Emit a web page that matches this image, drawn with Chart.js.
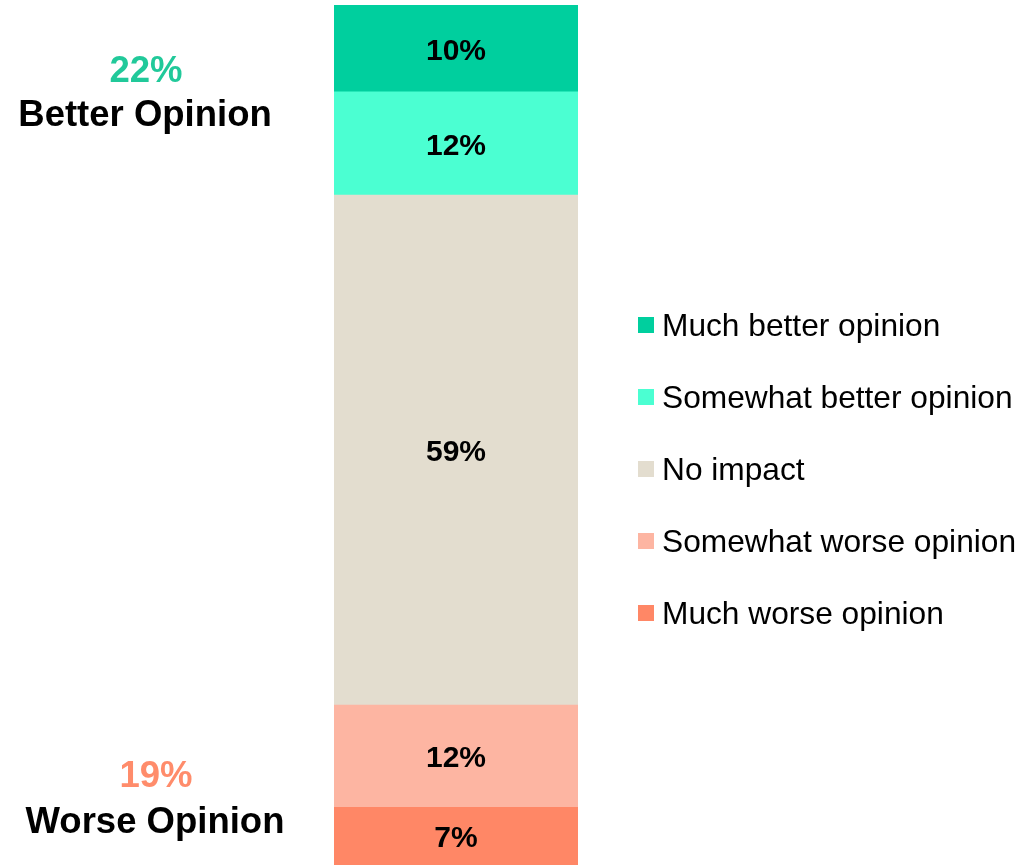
<!DOCTYPE html>
<html>
<head>
<meta charset="utf-8">
<script src="https://cdn.jsdelivr.net/npm/chart.js@4/dist/chart.umd.min.js"></script>
<style>
  html, body { margin: 0; padding: 0; background: #fff; }
  #wrap { position: relative; width: 1026px; height: 865px; }
</style>
</head>
<body>
<div id="wrap"><canvas id="chart"></canvas></div>
<script>
// data, bottom of the stack first (labels shown rounded)
const categories = ['Impact'];
const seriesNames = ['Much worse opinion', 'Somewhat worse opinion', 'No impact', 'Somewhat better opinion', 'Much better opinion'];
const seriesValues = [6.7, 11.9, 59.3, 12.0, 10.1];
const seriesColors = ['#FF8766', '#FDB5A2', '#E3DDCF', '#4BFFD2', '#00CF9E'];

const FONT = '"Liberation Sans", Arial, sans-serif';

const datasets = seriesNames.map((name, i) => ({
  label: name,
  data: [seriesValues[i]],
  backgroundColor: seriesColors[i],
  borderWidth: 0,
  barPercentage: 1,
  categoryPercentage: 1
}));

// percent labels inside each segment
const segmentLabels = {
  id: 'segmentLabels',
  afterDatasetsDraw(chart) {
    const ctx = chart.ctx;
    ctx.save();
    ctx.font = 'bold 30px ' + FONT;
    ctx.fillStyle = '#000';
    ctx.textAlign = 'center';
    ctx.textBaseline = 'middle';
    chart.data.datasets.forEach((ds, i) => {
      const bar = chart.getDatasetMeta(i).data[0];
      ctx.fillText(Math.round(ds.data[0]) + '%', bar.x, (bar.y + bar.base) / 2 + 3);
    });
    ctx.restore();
  }
};

// legend on the right, top-to-bottom = top of stack first
const sideLegend = {
  id: 'sideLegend',
  afterDraw(chart) {
    const ctx = chart.ctx;
    ctx.save();
    ctx.font = '31.7px ' + FONT;
    ctx.textBaseline = 'middle';
    ctx.textAlign = 'left';
    const n = chart.data.datasets.length;
    for (let k = 0; k < n; k++) {
      const ds = chart.data.datasets[n - 1 - k];
      const y = 325 + k * 72;
      ctx.fillStyle = ds.backgroundColor;
      ctx.fillRect(638, y - 8, 16, 16);
      ctx.fillStyle = '#000';
      ctx.fillText(ds.label, 662, y + 2);
    }
    ctx.restore();
  }
};

// net totals on the left
const netLabels = {
  id: 'netLabels',
  afterDraw(chart) {
    const ctx = chart.ctx;
    const better = Math.round(seriesValues[3] + seriesValues[4]);
    const worse = Math.round(seriesValues[0] + seriesValues[1]);
    ctx.save();
    ctx.textAlign = 'center';
    ctx.textBaseline = 'middle';
    ctx.font = 'bold 36.5px ' + FONT;
    ctx.fillStyle = '#21C99A';
    ctx.fillText(better + '%', 146, 72);
    ctx.fillStyle = '#000';
    ctx.fillText('Better Opinion', 145, 116);
    ctx.fillStyle = '#FF8C6B';
    ctx.fillText(worse + '%', 156, 777);
    ctx.fillStyle = '#000';
    ctx.fillText('Worse Opinion', 155, 823);
    ctx.restore();
  }
};

new Chart(document.getElementById('chart'), {
  type: 'bar',
  data: { labels: categories, datasets: datasets },
  options: {
    responsive: true,
    maintainAspectRatio: false,
    animation: false,
    layout: { padding: { top: 5, bottom: 0, left: 334, right: 448 } },
    plugins: { legend: { display: false }, tooltip: { enabled: false } },
    scales: {
      x: { stacked: true, display: false },
      y: { stacked: true, display: false, min: 0, max: 100 }
    }
  },
  plugins: [segmentLabels, sideLegend, netLabels]
});
</script>
</body>
</html>
